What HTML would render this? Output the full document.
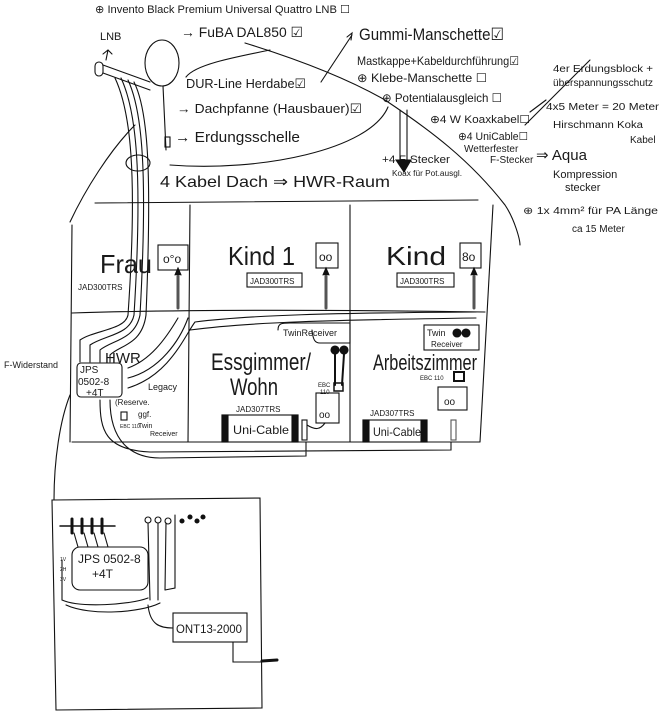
<!DOCTYPE html>
<html><head><meta charset="utf-8"><style>
html,body{margin:0;padding:0;background:#fff;}
svg{display:block;}
text{font-family:"Liberation Sans",sans-serif;fill:#1a1a1a;stroke:none;font-weight:normal;}
</style></head><body>
<svg width="661" height="720" viewBox="0 0 661 720" xmlns="http://www.w3.org/2000/svg" fill="none" stroke="#111" stroke-width="1.1" stroke-linecap="round">
<!-- roof -->
<path d="M245 43 C300 60 350 80 385 100 C430 130 470 160 505 205 C515 220 520 240 520 245"/>
<path d="M70 222 C85 190 110 150 135 125"/>
<path d="M388 107 C370 150 260 172 170 165"/>
<path d="M270 50 C230 58 195 65 186 77"/>
<path d="M321 82 L352 35 M347 37 L352 33 L351 40"/>
<!-- house -->
<path d="M95 203 L478 200"/>
<path d="M72 225 L70 442 M493 205 L480 442"/>
<path d="M190 205 L188 442 M350 205 L350 442"/>
<path d="M72 313 C200 309 350 310 485 312"/>
<path d="M72 442 L480 442"/>
<!-- dish -->
<ellipse cx="162" cy="63" rx="17" ry="23"/>
<rect x="95" y="62" width="8" height="14" rx="4"/>
<path d="M103 65 L150 82 M103 73 L150 90"/>
<path d="M108 50 L106 60 M103 54 L108 50 L112 54"/>
<path d="M163 86 L166 150"/>
<rect x="165" y="137" width="5" height="10"/>
<ellipse cx="138" cy="163" rx="12" ry="8"/>
<path d="M115 78 C130 110 138 170 128 315 M121 78 C136 110 143 170 134 315 M128 80 C142 110 148 170 140 315 M134 82 C148 110 152 170 146 315"/>
<path d="M128 315 C125 330 95 330 80 340 L80 362 M134 315 C130 335 105 335 90 345 L90 362 M140 315 C135 340 112 340 100 350 L100 362 M146 315 C142 345 120 345 110 355 L110 362"/>
<!-- top texts -->
<g font-size="11">
<text x="95" y="13" textLength="255" lengthAdjust="spacingAndGlyphs">⊕ Invento Black Premium Universal Quattro LNB ☐</text>
<text x="100" y="40">LNB</text>
<text x="181" y="37" font-size="14" textLength="122" lengthAdjust="spacingAndGlyphs">→ FuBA DAL850 ☑</text>
<text x="359" y="40" font-size="17" textLength="145" lengthAdjust="spacingAndGlyphs">Gummi-Manschette☑</text>
<text x="357" y="65" font-size="12" textLength="162" lengthAdjust="spacingAndGlyphs">Mastkappe+Kabeldurchführung☑</text>
<text x="357" y="82" font-size="12" textLength="130" lengthAdjust="spacingAndGlyphs">⊕ Klebe-Manschette ☐</text>
<text x="186" y="88" font-size="13" textLength="120" lengthAdjust="spacingAndGlyphs">DUR-Line Herdabe☑</text>
<text x="382" y="102" font-size="12" textLength="120" lengthAdjust="spacingAndGlyphs">⊕ Potentialausgleich ☐</text>
<text x="177" y="113" font-size="13" textLength="185" lengthAdjust="spacingAndGlyphs">→ Dachpfanne (Hausbauer)☑</text>
<text x="430" y="123" font-size="11" textLength="100" lengthAdjust="spacingAndGlyphs">⊕4 W Koaxkabel☐</text>
<text x="175" y="142" font-size="15" textLength="125" lengthAdjust="spacingAndGlyphs">→ Erdungsschelle</text>
<text x="458" y="140" font-size="11" textLength="70" lengthAdjust="spacingAndGlyphs">⊕4 UniCable☐</text>
<text x="464" y="152" font-size="10">Wetterfester</text>
<text x="490" y="163" font-size="10">F-Stecker</text>
<text x="382" y="163" font-size="11" textLength="68" lengthAdjust="spacingAndGlyphs">+4 F-Stecker</text>
<text x="392" y="176" font-size="8" textLength="70" lengthAdjust="spacingAndGlyphs">Koax für Pot.ausgl.</text>
<text x="160" y="187" font-size="16" textLength="230" lengthAdjust="spacingAndGlyphs">4 Kabel Dach ⇒ HWR-Raum</text>
<text x="553" y="72" font-size="10" textLength="100" lengthAdjust="spacingAndGlyphs">4er Erdungsblock +</text>
<text x="553" y="86" font-size="10" textLength="100" lengthAdjust="spacingAndGlyphs">überspannungsschutz</text>
<text x="546" y="110" font-size="10" textLength="113" lengthAdjust="spacingAndGlyphs">4x5 Meter = 20 Meter</text>
<text x="553" y="128" font-size="10" textLength="90" lengthAdjust="spacingAndGlyphs">Hirschmann Koka</text>
<text x="630" y="143" font-size="10">Kabel</text>
<text x="536" y="160" font-size="15">⇒ Aqua</text>
<text x="553" y="178" font-size="11">Kompression</text>
<text x="565" y="191" font-size="11">stecker</text>
<text x="523" y="214" font-size="10" textLength="135" lengthAdjust="spacingAndGlyphs">⊕ 1x 4mm² für PA Länge</text>
<text x="572" y="232" font-size="10">ca 15 Meter</text>
</g>
<path d="M400 110 L400 160 M407 110 L407 160 M396 160 L404 172 L411 160 Z" fill="#111"/>
<path d="M525 125 L590 60 M530 112 L546 100"/>
<!-- rooms -->
<g font-size="26">
<text x="100" y="273" textLength="52" lengthAdjust="spacingAndGlyphs">Frau</text>
<text x="228" y="265" textLength="67" lengthAdjust="spacingAndGlyphs">Kind 1</text>
<text x="386" y="265" textLength="60" lengthAdjust="spacingAndGlyphs">Kind</text>
<text x="211" y="370" font-size="24" textLength="100" lengthAdjust="spacingAndGlyphs">Essgimmer/</text>
<text x="230" y="395" font-size="24" textLength="48" lengthAdjust="spacingAndGlyphs">Wohn</text>
<text x="373" y="370" font-size="22" textLength="104" lengthAdjust="spacingAndGlyphs">Arbeitszimmer</text>
</g>
<g font-size="8">
<text x="78" y="290">JAD300TRS</text>
<rect x="247" y="273" width="55" height="14"/><text x="250" y="284">JAD300TRS</text>
<rect x="397" y="273" width="57" height="14"/><text x="400" y="284">JAD300TRS</text>
</g>
<!-- sockets -->
<rect x="158" y="245" width="30" height="25"/><text x="163" y="263" font-size="12">o°o</text>
<rect x="316" y="243" width="22" height="25"/><text x="319" y="261" font-size="12">oo</text>
<rect x="460" y="243" width="21" height="25"/><text x="462" y="261" font-size="12">8o</text>
<path d="M178 275 L178 308 M326 275 L326 308 M474 275 L474 308" stroke-width="3" stroke="#555"/>
<path d="M175 275 L178 268 L181 275 M323 275 L326 268 L329 275 M471 275 L474 268 L477 275" fill="#111"/>
<!-- Essz elements -->
<path d="M278 330 C278 323 282 323 290 323 L350 323 L350 343 L320 343 C315 343 313 340 312 330"/>
<text x="283" y="336" font-size="9">TwinReceiver</text>
<circle cx="335" cy="350" r="4" fill="#111"/><circle cx="344" cy="350" r="4" fill="#111"/>
<path d="M335 354 L335 385 M344 354 L342 385" stroke-width="2"/>
<rect x="334" y="383" width="9" height="8" stroke-width="1.5"/>
<text x="318" y="387" font-size="6">EBC</text><text x="320" y="394" font-size="6">110</text>
<rect x="316" y="393" width="23" height="30"/><text x="319" y="418" font-size="10">oo</text>
<rect x="222" y="415" width="76" height="27"/>
<rect x="222" y="415" width="6" height="27" fill="#111"/><rect x="292" y="415" width="6" height="27" fill="#111"/>
<text x="233" y="434" font-size="12" textLength="56" lengthAdjust="spacingAndGlyphs">Uni-Cable</text>
<text x="236" y="412" font-size="8">JAD307TRS</text>
<rect x="302" y="420" width="5" height="20"/>
<path d="M307 425 C315 430 320 430 325 423"/>
<rect x="363" y="420" width="64" height="22"/>
<rect x="363" y="420" width="6" height="22" fill="#111"/><rect x="421" y="420" width="6" height="22" fill="#111"/>
<text x="373" y="436" font-size="12" textLength="48" lengthAdjust="spacingAndGlyphs">Uni-Cable</text>
<text x="370" y="416" font-size="8">JAD307TRS</text>
<!-- Arbeit -->
<rect x="424" y="325" width="55" height="25"/><text x="427" y="336" font-size="9">Twin</text><text x="431" y="347" font-size="8">Receiver</text>
<circle cx="457" cy="333" r="4" fill="#111"/><circle cx="466" cy="333" r="4" fill="#111"/>
<rect x="454" y="372" width="10" height="9" stroke-width="2"/>
<text x="420" y="380" font-size="6">EBC 110</text>
<rect x="438" y="387" width="29" height="23"/><text x="444" y="405" font-size="10">oo</text>
<rect x="451" y="420" width="5" height="20" stroke="#555"/>
<!-- HWR -->
<rect x="77" y="363" width="45" height="34" rx="4"/>
<text x="80" y="373" font-size="10">JPS</text><text x="78" y="385" font-size="10">0502-8</text><text x="86" y="396" font-size="10">+4T</text>
<text x="105" y="363" font-size="15">HWR</text>
<text x="148" y="390" font-size="9">Legacy</text>
<text x="115" y="405" font-size="8">(Reserve.</text><text x="138" y="417" font-size="8">ggf.</text><text x="138" y="428" font-size="7">Twin</text><text x="150" y="436" font-size="7">Receiver</text>
<text x="4" y="368" font-size="9">F-Widerstand</text>
<rect x="121" y="412" width="6" height="8"/>
<text x="120" y="428" font-size="5">EBC 110</text>
<path d="M128 368 C150 360 165 340 178 318 M128 378 C160 370 180 340 188 318 M128 388 C170 375 185 335 195 322 C250 315 330 313 476 312"/>
<path d="M190 330 C250 322 330 320 476 318"/>
<path d="M100 400 C100 430 105 450 150 452 L451 450 L451 442 M110 400 C110 440 130 458 160 458 L306 456 L306 442"/>
<!-- riser to basement -->
<path d="M70 395 C60 420 54 460 54 500"/>
<!-- basement -->
<path d="M52 500 L260 498 L262 708 L56 710 Z"/>
<path d="M60 526 L115 526" stroke-width="1.5"/>
<path d="M72 519 L72 533 M82 519 L82 533 M92 519 L92 533 M102 519 L102 533" stroke-width="3"/>
<rect x="72" y="547" width="76" height="43" rx="8"/>
<text x="78" y="563" font-size="12">JPS 0502-8</text><text x="92" y="578" font-size="12">+4T</text>
<text x="60" y="561" font-size="5">1V</text><text x="60" y="571" font-size="5">2H</text><text x="60" y="581" font-size="5">3V</text>
<path d="M74 533 L78 547 M84 533 L88 547 M94 533 L98 547 M104 533 L108 547"/>
<circle cx="148" cy="520" r="3"/><circle cx="158" cy="520" r="3"/><circle cx="168" cy="521" r="3"/>
<circle cx="182" cy="521" r="2" fill="#111"/><circle cx="190" cy="517" r="2" fill="#111"/><circle cx="197" cy="521" r="2" fill="#111"/><circle cx="203" cy="517" r="2" fill="#111"/>
<path d="M148 523 L150 600 M158 523 L158 600 M166 523 L165 590 M175 515 L175 588 L165 590"/>
<path d="M62 560 L62 600 C80 608 130 605 148 598 M66 605 C90 616 140 613 160 603"/>
<rect x="173" y="613" width="74" height="29"/>
<text x="176" y="633" font-size="12" textLength="66" lengthAdjust="spacingAndGlyphs">ONT13-2000</text>
<path d="M148 605 C150 625 160 628 173 628 M233 642 L233 662 L262 662"/>
<path d="M262 661 L277 660" stroke-width="3"/>
</svg>
</body></html>
